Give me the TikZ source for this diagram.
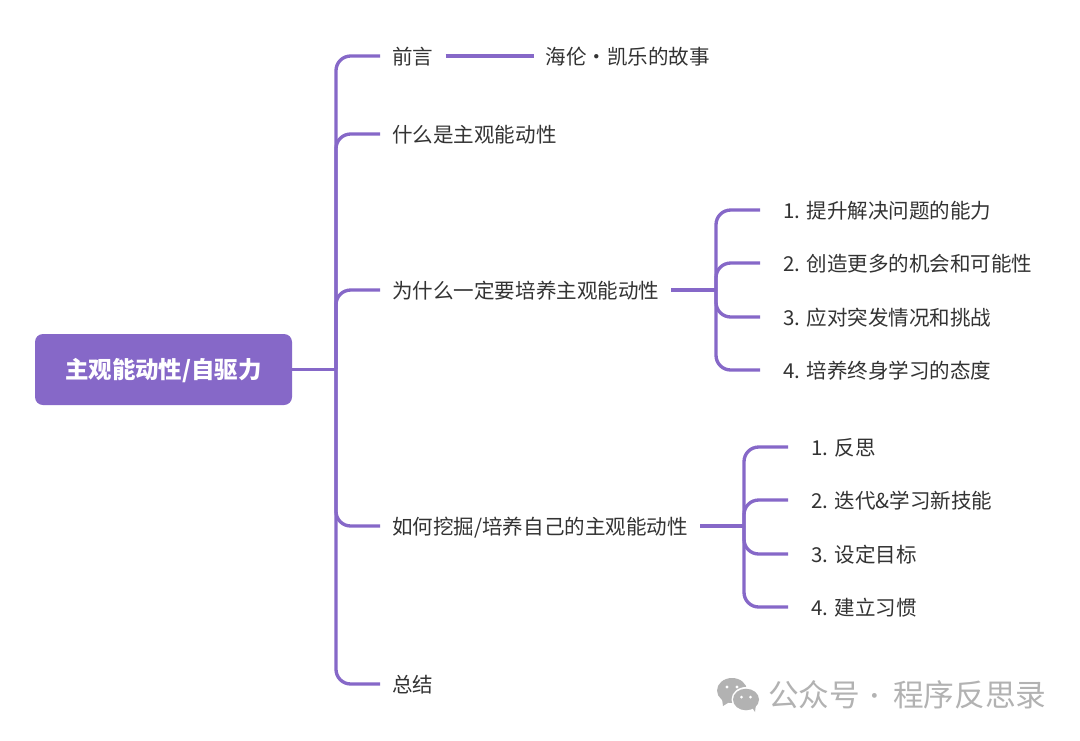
\documentclass[tikz,border=0pt]{standalone}
\usepackage{fontspec}
\setmainfont{Noto Sans CJK SC}
\definecolor{brandpurple}{HTML}{8668C8}
\definecolor{inktext}{HTML}{333333}
\definecolor{markgray}{HTML}{B2B2B2}
\tikzset{
  rootbox/.style={draw=none,fill=brandpurple,rounded corners=6pt,minimum width=192.75pt,minimum height=53.25pt,inner sep=0pt,text=white,text height=1.36em,text depth=0pt,font=\fontsize{17.6pt}{20pt}\selectfont\bfseries},
  topic/.style={anchor=west,inner ysep=0pt,inner xsep=9pt,text=inktext,text height=1.3em,text depth=0pt,font=\fontsize{15.4pt}{18pt}\selectfont},
  leaf/.style={topic,inner xsep=17.25pt},
  link/.style={draw=brandpurple,line width=2.5pt,rounded corners=11pt},
  markword/.style={inner sep=0pt,text=markgray,font=\fontsize{23pt}{26pt}\selectfont},
  markdot/.style={inner sep=0pt,text=markgray,font=\fontsize{17pt}{20pt}\selectfont},
}
\begin{document}
\begin{tikzpicture}[x=0.75pt,y=-0.75pt]
\useasboundingbox (0,0) rectangle (1080,740);
\fill[white] (0,0) rectangle (1080,740);
\node[rootbox] (root) at (163.5,369.5) {主观能动性/自驱力};
\coordinate (hubA) at (336,369.5);
\coordinate (hubB) at (716,290);
\coordinate (hubC) at (744,526);
\node[topic] (t1) at (380,56) {前言};
\node[topic] (t1a) at (533.5,56) {海伦・凯乐的故事};
\node[topic] (t2) at (380,134) {什么是主观能动性};
\node[topic] (t3) at (380,290) {为什么一定要培养主观能动性};
\node[topic] (t4) at (380,526) {如何挖掘/培养自己的主观能动性};
\node[topic] (t5) at (380,684) {总结};
\node[leaf] (b1) at (760,210) {1. 提升解决问题的能力};
\node[leaf] (b2) at (760,263) {2. 创造更多的机会和可能性};
\node[leaf] (b3) at (760,317) {3. 应对突发情况和挑战};
\node[leaf] (b4) at (760,370) {4. 培养终身学习的态度};
\node[leaf] (c1) at (788,447) {1. 反思};
\node[leaf] (c2) at (788,500) {2. 迭代\&学习新技能};
\node[leaf] (c3) at (788,554) {3. 设定目标};
\node[leaf] (c4) at (788,607) {4. 建立习惯};
\draw[link] (root.east) -- (hubA);
\foreach \n in {t1,t2,t3,t4,t5} \draw[link] (hubA) |- (\n.west);
\draw[link] (t1.east) -- (t1a.west);
\draw[link] (t3.east) -- (hubB);
\foreach \n in {b1,b2,b3,b4} \draw[link] (hubB) |- (\n.west);
\draw[link] (t4.east) -- (hubC);
\foreach \n in {c1,c2,c3,c4} \draw[link] (hubC) |- (\n.west);
% watermark
\fill[markgray] (732,690.5) ellipse [x radius=15,y radius=12.5];
\fill[markgray] (722,699) -- (723,706) -- (731,701) -- cycle;
\fill[white] (746,699.5) ellipse [x radius=14.5,y radius=12.5];
\fill[markgray] (746,699.5) ellipse [x radius=13,y radius=10.8];
\fill[markgray] (751,706) -- (755,712) -- (756,704) -- cycle;
\fill[white] (727,687) circle (1.7) (737,687) circle (1.7) (741.5,697) circle (1.5) (750.5,697) circle (1.5);
\node[markword,anchor=west] (wm) at (768,695) {公众号};
\node[markdot,anchor=center] (wd) at (875,699) {·};
\node[markword,anchor=west] (wn) at (893,695) {程序反思录};
\end{tikzpicture}
\end{document}
